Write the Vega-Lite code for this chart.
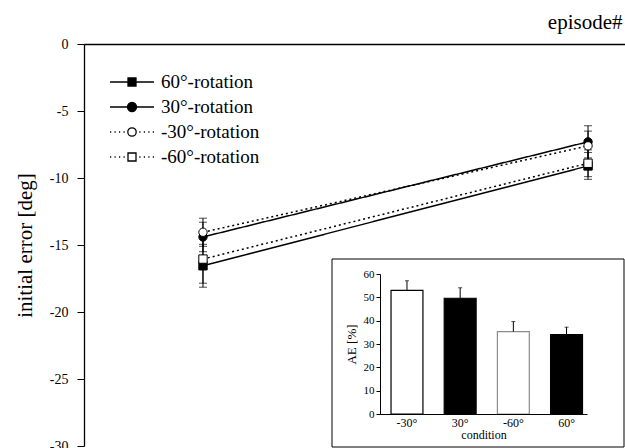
{
  "$schema": "https://vega.github.io/schema/vega-lite/v6.json",
  "width": 541,
  "height": 402,
  "autosize": {"type": "none"},
  "padding": {"left": 84, "top": 44, "right": 0, "bottom": 2},
  "background": "white",
  "config": {
    "font": "Liberation Serif",
    "view": {"stroke": null},
    "axis": {
      "grid": false,
      "labelFont": "Liberation Serif",
      "titleFont": "Liberation Serif",
      "labelColor": "black",
      "titleColor": "black",
      "domainColor": "black",
      "tickColor": "black",
      "titleFontWeight": "normal"
    },
    "legend": {"labelFont": "Liberation Serif", "titleFont": "Liberation Serif"}
  },
  "datasets": {
    "main": [
      {"series": "60°-rotation", "episode": 1, "error": -16.55, "lo": -18.15, "hi": -14.95},
      {"series": "60°-rotation", "episode": 2, "error": -9.1, "lo": -10.1, "hi": -8.1},
      {"series": "30°-rotation", "episode": 1, "error": -14.4, "lo": -15.5, "hi": -13.3},
      {"series": "30°-rotation", "episode": 2, "error": -7.3, "lo": -8.5, "hi": -6.1},
      {"series": "-30°-rotation", "episode": 1, "error": -14.05, "lo": -15.1, "hi": -13.0},
      {"series": "-30°-rotation", "episode": 2, "error": -7.6, "lo": -8.7, "hi": -6.5},
      {"series": "-60°-rotation", "episode": 1, "error": -16.05, "lo": -17.85, "hi": -14.25},
      {"series": "-60°-rotation", "episode": 2, "error": -8.9, "lo": -9.9, "hi": -7.9}
    ],
    "inset": [
      {"condition": "-30°", "ae": 53.0, "upper": 57.1},
      {"condition": "30°", "ae": 49.6, "upper": 54.1},
      {"condition": "-60°", "ae": 35.3, "upper": 39.6},
      {"condition": "60°", "ae": 34.0, "upper": 37.2}
    ]
  },
  "layer": [
    {
      "data": {"name": "main"},
      "layer": [
        {
          "mark": {"type": "line", "color": "black", "strokeWidth": 1.5},
          "encoding": {
            "x": {
              "field": "episode", "type": "quantitative",
              "scale": {"domain": [0.691, 2.096], "nice": false, "zero": false},
              "axis": {
                "orient": "top", "ticks": false, "labels": false, "domainWidth": 1.3,
                "title": "episode#", "titleFontSize": 21, "titleAnchor": "end",
                "titleAlign": "right", "titleX": 538, "titlePadding": 12
              }
            },
            "y": {
              "field": "error", "type": "quantitative",
              "title": "initial error [deg]",
              "scale": {"domain": [-30, 0], "nice": false, "zero": false},
              "axis": {
                "orient": "left", "values": [0, -5, -10, -15, -20, -25, -30],
                "labelExpr": "replace(datum.label, '\u2212', '-')",
                "tickSize": 7, "labelPadding": 9, "labelFontSize": 14, "domainWidth": 1.3,
                "titleFontSize": 21, "titlePadding": 14
              }
            },
            "detail": {"field": "series"},
            "strokeDash": {
              "field": "series", "type": "nominal",
              "scale": {
                "domain": ["60°-rotation", "30°-rotation", "-30°-rotation", "-60°-rotation"],
                "range": [[1, 0], [1, 0], [2, 3], [2, 3]]
              },
              "legend": null
            }
          }
        },
        {
          "mark": {"type": "errorbar", "ticks": {"size": 8, "color": "black"}, "rule": {"color": "black", "strokeWidth": 1}},
          "encoding": {
            "x": {"field": "episode", "type": "quantitative"},
            "y": {"field": "lo", "type": "quantitative", "title": "initial error [deg]"},
            "y2": {"field": "hi"}
          }
        },
        {
          "mark": {"type": "point", "filled": true, "stroke": "black", "strokeWidth": 1, "opacity": 1},
          "encoding": {
            "x": {"field": "episode", "type": "quantitative"},
            "y": {"field": "error", "type": "quantitative", "title": "initial error [deg]"},
            "shape": {
              "field": "series", "type": "nominal",
              "scale": {
                "domain": ["60°-rotation", "30°-rotation", "-30°-rotation", "-60°-rotation"],
                "range": ["square", "circle", "circle", "square"]
              },
              "legend": null
            },
            "fill": {
              "field": "series", "type": "nominal",
              "scale": {
                "domain": ["60°-rotation", "30°-rotation", "-30°-rotation", "-60°-rotation"],
                "range": ["black", "black", "white", "white"]
              },
              "legend": null
            },
            "size": {"value": 70}
          }
        }
      ]
    },
    {
      "data": {"values": [{"panel": "inset"}]},
      "mark": {"type": "rect", "fill": "white", "stroke": "black", "strokeWidth": 1},
      "encoding": {
        "x": {"datum": 0, "type": "quantitative", "scale": {"domain": [0, 1], "range": [248, 540], "nice": false, "zero": false}, "axis": null},
        "x2": {"datum": 1},
        "y": {"datum": 0, "type": "quantitative", "scale": {"domain": [0, 1], "range": [403, 215], "nice": false, "zero": false}, "axis": null},
        "y2": {"datum": 1}
      }
    },
    {
      "data": {"name": "inset"},
      "layer": [
        {
          "mark": {"type": "bar", "strokeWidth": 1.2},
          "encoding": {
            "x": {
              "field": "condition", "type": "nominal",
              "sort": ["-30°", "30°", "-60°", "60°"],
              "scale": {"range": [296, 503], "paddingInner": 0.4, "paddingOuter": 0.146, "align": 0.71},
              "axis": {
                "orient": "bottom", "offset": -32, "zindex": 1, "ticks": false,
                "labelAngle": 0, "labelFontSize": 12, "labelPadding": 3, "domainWidth": 1,
                "title": "condition", "titleFontSize": 12, "titlePadding": 1
              }
            },
            "y": {
              "field": "ae", "type": "quantitative",
              "scale": {"domain": [0, 60], "range": [370, 230], "nice": false},
              "axis": {
                "orient": "left", "offset": -296, "zindex": 1,
                "values": [0, 10, 20, 30, 40, 50, 60],
                "tickSize": 4, "labelPadding": 2, "labelFontSize": 11, "domainWidth": 1,
                "title": "AE [%]", "titleFontSize": 13, "titlePadding": 5
              }
            },
            "fill": {
              "field": "condition", "type": "nominal",
              "scale": {"domain": ["-30°", "30°", "-60°", "60°"], "range": ["white", "black", "white", "black"]},
              "legend": null
            },
            "stroke": {
              "field": "condition", "type": "nominal",
              "scale": {"domain": ["-30°", "30°", "-60°", "60°"], "range": ["black", "black", "#8c8c8c", "black"]},
              "legend": null
            }
          }
        },
        {
          "mark": {"type": "rule", "color": "black", "strokeWidth": 1},
          "encoding": {
            "x": {"field": "condition", "type": "nominal", "sort": ["-30°", "30°", "-60°", "60°"]},
            "y": {"field": "ae", "type": "quantitative"},
            "y2": {"field": "upper"}
          }
        },
        {
          "mark": {"type": "tick", "color": "black", "size": 4, "thickness": 1},
          "encoding": {
            "x": {"field": "condition", "type": "nominal", "sort": ["-30°", "30°", "-60°", "60°"]},
            "y": {"field": "upper", "type": "quantitative"}
          }
        }
      ]
    },
    {
      "data": {"name": "main"},
      "transform": [{"filter": {"field": "series", "oneOf": ["none"]}}],
      "mark": {"type": "point", "filled": true, "opacity": 1, "strokeWidth": 1.3},
      "encoding": {
        "shape": {
          "field": "series", "type": "nominal",
          "scale": {
            "domain": ["60°-rotation", "30°-rotation", "-30°-rotation", "-60°-rotation"],
            "range": [
              "M-2.2,0H2.2M-0.4,-0.4H0.4V0.4H-0.4Z",
              "M-2.2,0H2.2M0.45,0A0.45,0.45,0,1,1,-0.45,0A0.45,0.45,0,1,1,0.45,0Z",
              "M-2.2,0h0.12M-1.75,0h0.12M-1.3,0h0.12M-0.85,0h0.12M0.73,0h0.12M1.18,0h0.12M1.63,0h0.12M2.08,0h0.12M0.42,0A0.42,0.42,0,1,1,-0.42,0A0.42,0.42,0,1,1,0.42,0Z",
              "M-2.2,0h0.12M-1.75,0h0.12M-1.3,0h0.12M-0.85,0h0.12M0.73,0h0.12M1.18,0h0.12M1.63,0h0.12M2.08,0h0.12M-0.4,-0.4H0.4V0.4H-0.4Z"
            ]
          },
          "legend": {
            "orient": "none", "legendX": 37, "legendY": 27,
            "title": null, "padding": 0,
            "labelFont": "Liberation Serif", "labelFontSize": 19, "labelColor": "black",
            "labelOffset": 18, "rowPadding": 4,
            "symbolSize": 400, "symbolStrokeWidth": 1.3, "symbolOpacity": 1
          }
        },
        "fill": {
          "field": "series", "type": "nominal",
          "scale": {
            "domain": ["60°-rotation", "30°-rotation", "-30°-rotation", "-60°-rotation"],
            "range": ["black", "black", "white", "white"]
          }
        },
        "stroke": {
          "field": "series", "type": "nominal",
          "scale": {
            "domain": ["60°-rotation", "30°-rotation", "-30°-rotation", "-60°-rotation"],
            "range": ["black", "black", "black", "black"]
          }
        }
      }
    }
  ],
  "resolve": {
    "scale": {"x": "independent", "y": "independent", "fill": "independent", "stroke": "independent", "shape": "independent", "strokeDash": "independent"},
    "axis": {"x": "independent", "y": "independent"},
    "legend": {"fill": "independent", "stroke": "independent", "shape": "independent", "strokeDash": "independent"}
  }
}
